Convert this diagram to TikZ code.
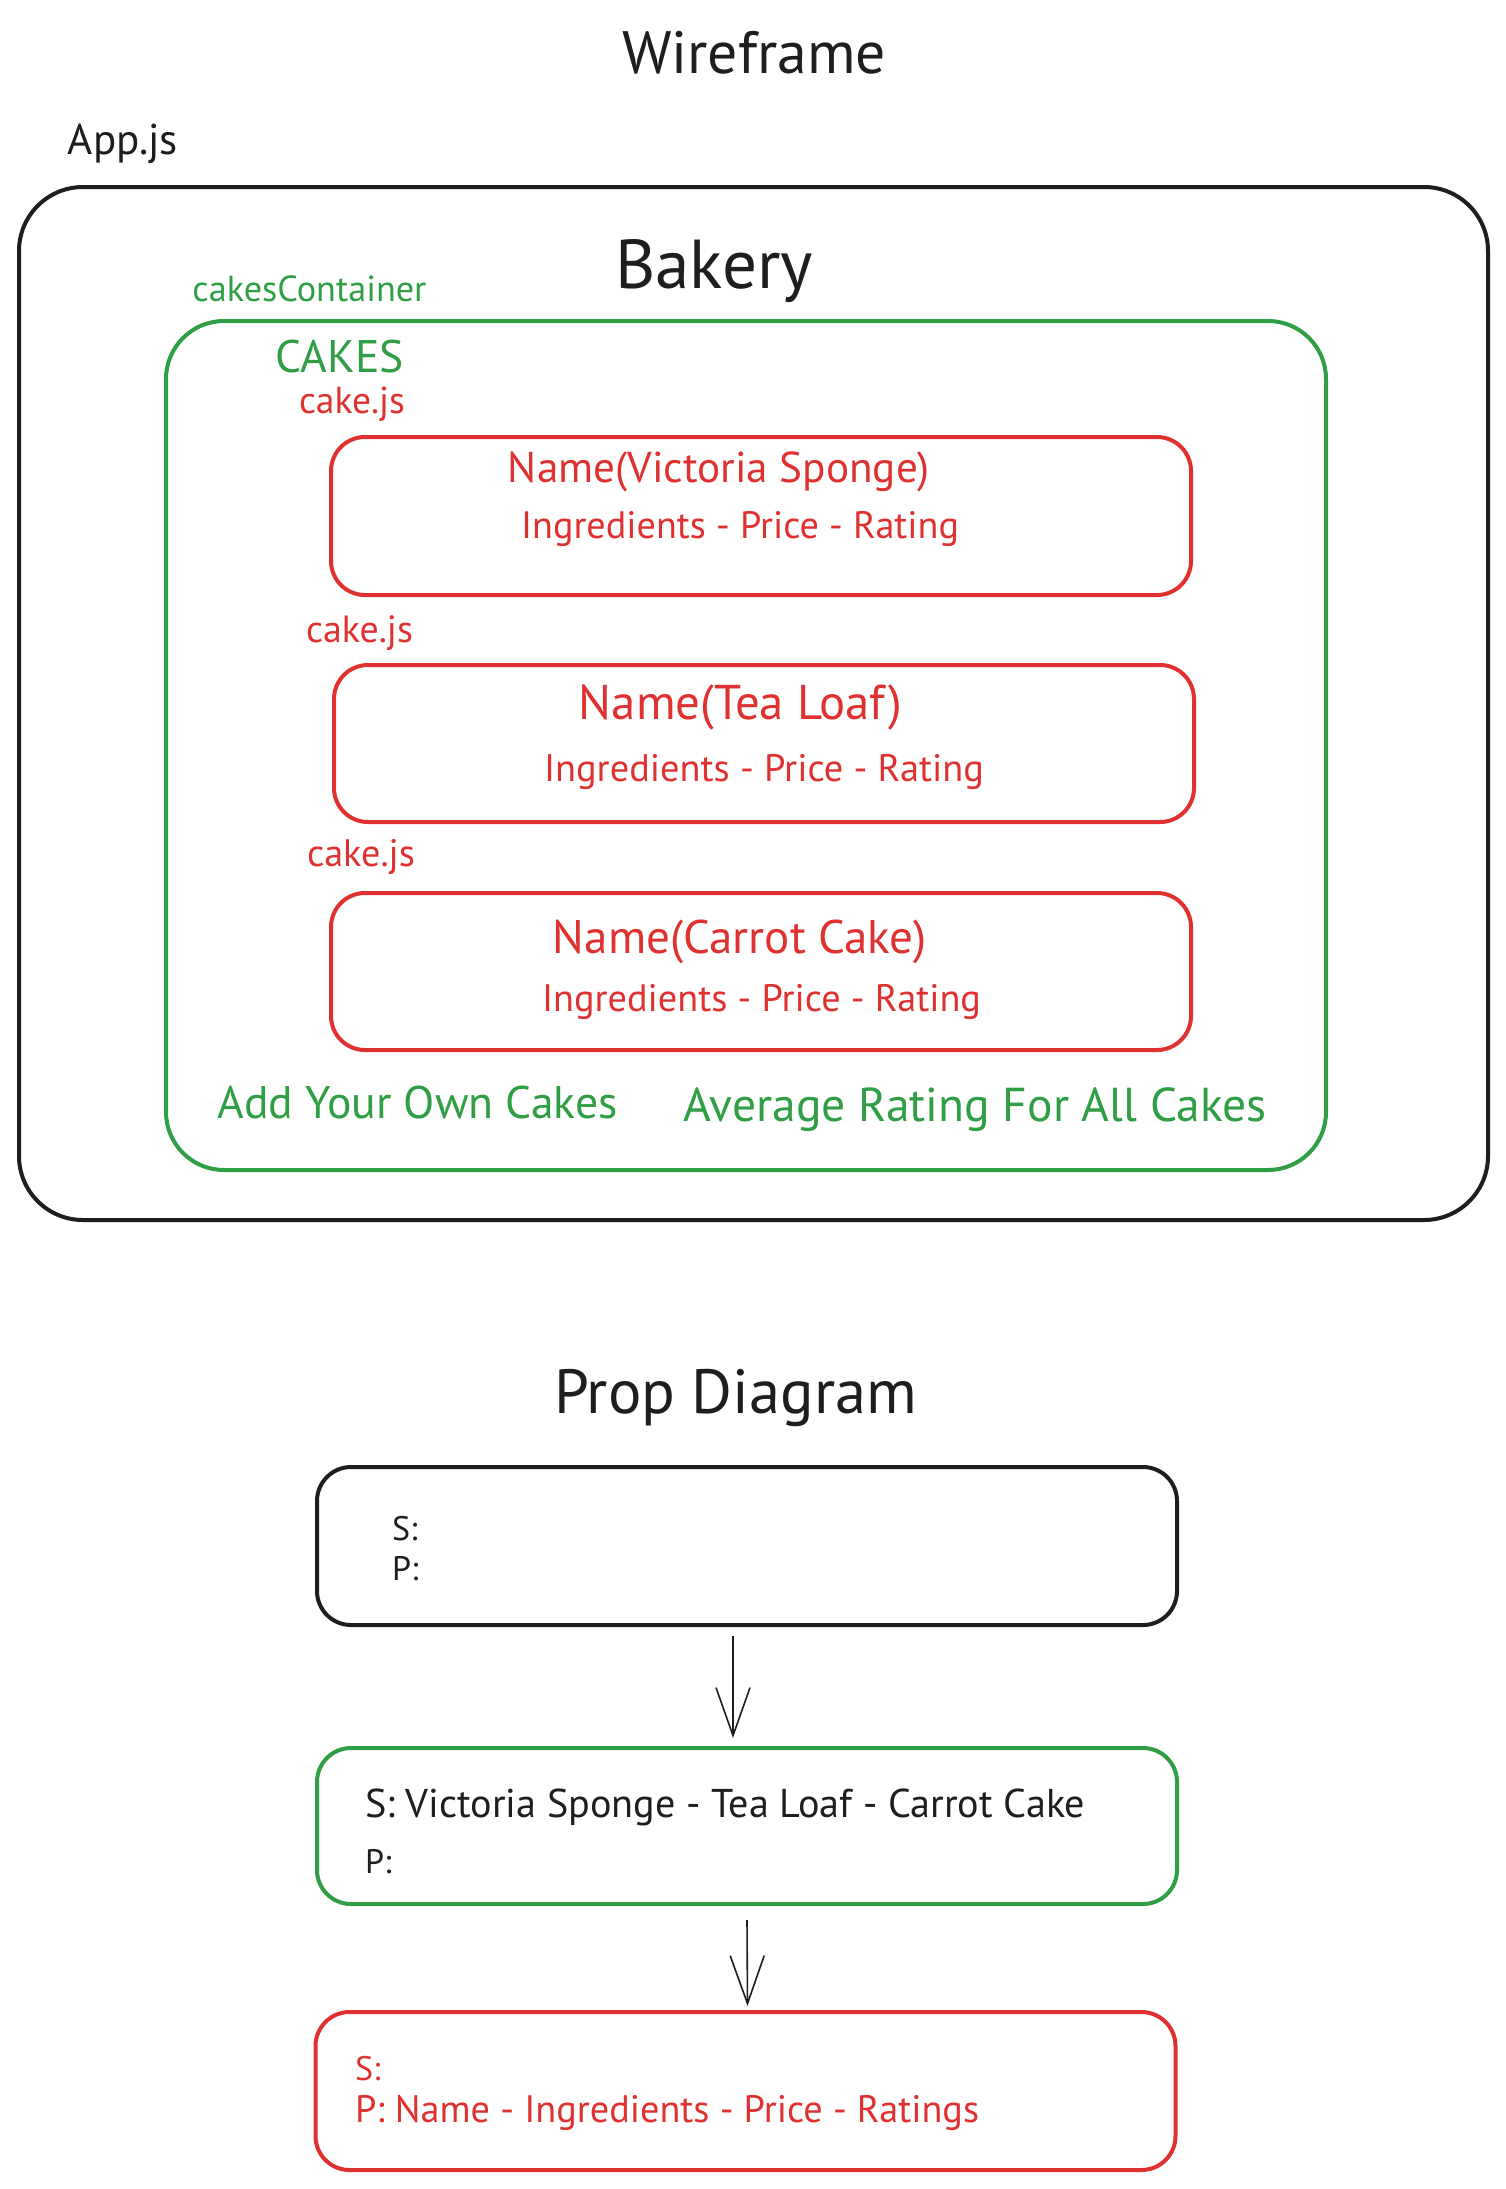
\documentclass[tikz,border=0pt]{standalone}
\usepackage{fontspec}
\setmainfont{PT Sans}
\usetikzlibrary{arrows.meta}
\definecolor{inkblack}{HTML}{1E1E1E}
\definecolor{inkgreen}{HTML}{2F9E44}
\definecolor{inkred}{HTML}{E03131}
\newcommand{\fitw}[2]{\resizebox{#1}{!}{#2}}
\tikzset{
  frame/.style={draw, line width=2pt, rounded corners=#1, inner sep=0pt, outer sep=0pt},
  lbl/.style={inner sep=0pt, outer sep=0pt},
  redlbl/.style={lbl, text=inkred},
  greenlbl/.style={lbl, text=inkgreen},
  smalltxt/.style={font=\fontsize{17}{20}\selectfont},
  flow/.style={draw=inkblack, line width=0.8pt, -{Straight Barb[length=24pt,width=17pt,line width=0.8pt]}},
}
\begin{document}
\begin{tikzpicture}[x=0.5pt,y=-0.5pt]
\useasboundingbox[fill=white] (0,0) rectangle (1505,2189);

% ---------- Wireframe ----------
\node[lbl, text=inkblack] (title) at (754,53) {\fitw{132pt}{Wireframe}};
\node[lbl, text=inkblack, anchor=base] (appjs) at (123,155) {\fitw{55pt}{App.js}};

\node[frame=32pt, draw=inkblack, minimum width=734.5pt, minimum height=516.5pt] (app) at (753.5,703.5) {};
\node[lbl, text=inkblack, anchor=base] (bakery) at (714,288) {\fitw{99pt}{Bakery}};

\node[greenlbl] (contlbl) at (309.5,289) {\fitw{117pt}{cakesContainer}};
\node[frame=29pt, draw=inkgreen, minimum width=580pt, minimum height=424.5pt] (cont) at (746,745.5) {};
\node[greenlbl] (cakes) at (340,357) {\fitw{64pt}{CAKES}};

% cake 1
\node[redlbl, anchor=base] (cj1) at (352,413) {\fitw{53pt}{cake.js}};
\node[frame=17pt, draw=inkred, minimum width=430pt, minimum height=79pt] (cake1) at (761,516) {};
\node[redlbl, anchor=base] (n1) at (719,482) {\fitw{211pt}{Name(Victoria Sponge)}};
\node[redlbl, anchor=base] (i1) at (740,538) {\fitw{219pt}{Ingredients - Price - Rating}};

% cake 2
\node[redlbl, anchor=base] (cj2) at (359.5,642) {\fitw{53.5pt}{cake.js}};
\node[frame=17pt, draw=inkred, minimum width=430pt, minimum height=78.5pt] (cake2) at (764,743.5) {};
\node[redlbl, anchor=base] (n2) at (740.5,719) {\fitw{161.5pt}{Name(Tea Loaf)}};
\node[redlbl, anchor=base] (i2) at (764,781) {\fitw{220pt}{Ingredients - Price - Rating}};

% cake 3
\node[redlbl, anchor=base] (cj3) at (361,866) {\fitw{54pt}{cake.js}};
\node[frame=17pt, draw=inkred, minimum width=430pt, minimum height=78.5pt] (cake3) at (761,971.5) {};
\node[redlbl, anchor=base] (n3) at (740,953) {\fitw{187pt}{Name(Carrot Cake)}};
\node[redlbl, anchor=base] (i3) at (761.5,1011) {\fitw{219.5pt}{Ingredients - Price - Rating}};

\node[greenlbl, anchor=base] (addown) at (417.5,1118) {\fitw{200pt}{Add Your Own Cakes}};
\node[greenlbl, anchor=base] (avg) at (975,1121) {\fitw{291.5pt}{Average Rating For All Cakes}};

% ---------- Prop Diagram ----------
\node[lbl, text=inkblack, anchor=base] (prop) at (735.5,1413) {\fitw{181.5pt}{Prop Diagram}};

\node[frame=17pt, draw=inkblack, minimum width=430pt, minimum height=79pt] (pb1) at (747,1546) {};
\node[lbl, text=inkblack, anchor=base west, smalltxt] (pb1s) at (392,1540) {S:};
\node[lbl, text=inkblack, anchor=base west, smalltxt] (pb1p) at (392,1580) {P:};

\node[frame=17pt, draw=inkgreen, minimum width=430pt, minimum height=78pt] (pb2) at (747,1826) {};
\node[lbl, text=inkblack, anchor=base west] (pb2s) at (365,1817) {\fitw{360pt}{S: Victoria Sponge - Tea Loaf - Carrot Cake}};
\node[lbl, text=inkblack, anchor=base west, smalltxt] (pb2p) at (365,1873) {P:};

\node[frame=17pt, draw=inkred, minimum width=430pt, minimum height=79pt] (pb3) at (745.5,2091) {};
\node[redlbl, anchor=base west, smalltxt] (pb3s) at (355,2080) {S:};
\node[redlbl, anchor=base west] (pb3p) at (355,2122) {\fitw{312pt}{P: Name - Ingredients - Price - Ratings}};

\draw[flow] ([xshift=-7pt,yshift=-5.5pt]pb1.south) -- ([xshift=-7pt,yshift=5pt]pb2.north);
\draw[flow] ([yshift=-8pt]pb2.south) -- ([xshift=1pt,yshift=3pt]pb3.north);
\end{tikzpicture}
\end{document}
